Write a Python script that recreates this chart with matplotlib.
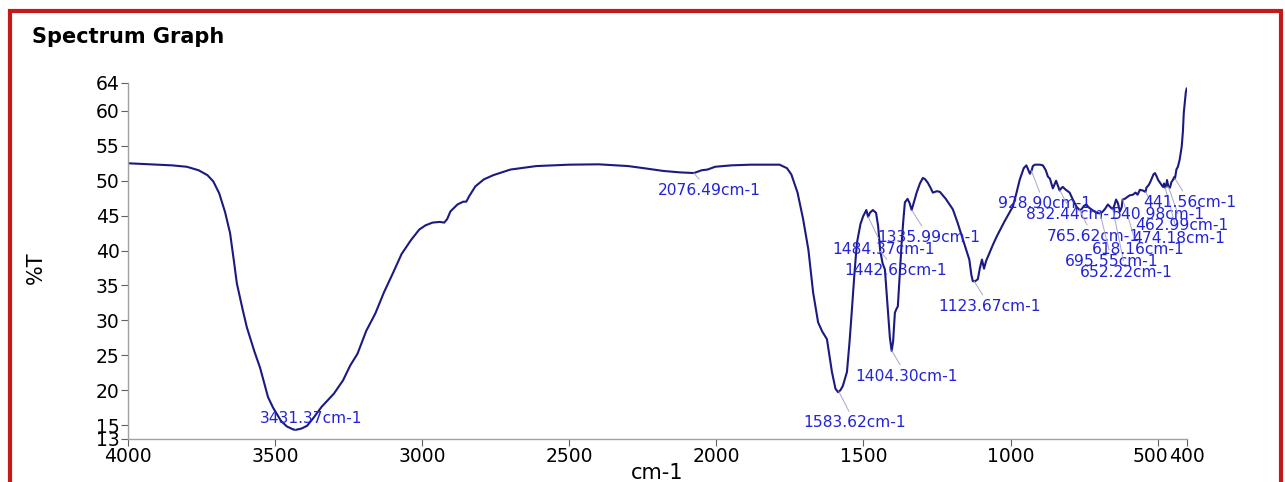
import numpy as np
import matplotlib
matplotlib.use("Agg")
import matplotlib.pyplot as plt
from matplotlib.patches import Rectangle
from matplotlib.transforms import ScaledTranslation

# Spectrum (wavenumber cm-1, %T)
wavenumber = [
    4000, 3950, 3900, 3850, 3800, 3760, 3730, 3710, 3690, 3670, 3653, 3640, 3630, 3610,
    3596, 3570, 3551, 3524, 3507, 3480, 3460, 3440, 3431, 3410, 3391, 3370, 3342, 3300,
    3269, 3245, 3220, 3190, 3159, 3130, 3099, 3070, 3038, 3010, 2989, 2965, 2940, 2925,
    2915, 2904, 2880, 2860, 2850, 2840, 2819, 2790, 2758, 2700, 2612, 2500, 2400, 2300,
    2247, 2180, 2125, 2076, 2050, 2030, 2004, 1950, 1882, 1800, 1785, 1760, 1745, 1724,
    1705, 1687, 1671, 1654, 1640, 1624, 1607, 1595, 1586, 1578, 1570, 1556, 1547, 1539,
    1530, 1522, 1510, 1501, 1490, 1484, 1478, 1468, 1457, 1450, 1443, 1435, 1427, 1417,
    1410, 1404, 1399, 1393, 1388, 1383, 1376, 1370, 1364, 1359, 1350, 1343, 1336, 1328,
    1319, 1308, 1298, 1290, 1281, 1272, 1264, 1250, 1240, 1220, 1196, 1180, 1162, 1150,
    1140, 1133, 1128, 1120, 1111, 1104, 1097, 1090, 1083, 1077, 1060, 1047, 1020, 992,
    980, 969, 955, 946, 940, 934, 928, 924, 917, 900, 890, 880, 873, 866, 856, 850, 845,
    838, 833, 826, 822, 812, 799, 788, 776, 765, 759, 750, 742, 735, 725, 715, 707, 695,
    686, 678, 669, 660, 652, 646, 641, 635, 628, 622, 619, 612, 605, 595, 584, 575, 568,
    560, 550, 541, 538, 530, 525, 519, 514, 509, 504, 498, 490, 485, 481, 478, 474, 470,
    468, 463, 458, 453, 448, 444, 441, 436, 431, 425, 418, 414, 411, 407, 404, 401,
]
transmittance = [
    52.5, 52.4, 52.3, 52.2, 52.0, 51.5, 50.8, 49.9, 48.2, 45.5, 42.5, 38.5, 35.3, 31.5,
    29.0, 25.5, 23.2, 19.0, 17.5, 15.6, 14.8, 14.4, 14.3, 14.5, 14.9, 16.0, 17.6, 19.5,
    21.4, 23.5, 25.2, 28.5, 31.0, 34.0, 36.8, 39.5, 41.5, 43.0, 43.6, 44.0, 44.1, 44.0,
    44.5, 45.6, 46.6, 47.0, 47.0, 47.8, 49.2, 50.2, 50.8, 51.6, 52.1, 52.3, 52.35, 52.1,
    51.8, 51.4, 51.2, 51.1, 51.5, 51.6, 52.0, 52.2, 52.3, 52.3, 52.3, 51.8, 50.9, 48.3,
    44.5, 40.1, 34.0, 29.7, 28.4, 27.3, 22.6, 20.2, 19.7, 20.0, 20.6, 22.6, 27.0, 31.6,
    37.0, 41.1, 43.8, 44.9, 45.8, 44.8, 45.4, 45.8, 45.4, 43.5, 40.0, 38.2, 37.3, 31.6,
    27.5, 25.6, 27.0, 31.1, 31.6, 32.0, 37.0, 41.1, 44.5, 46.9, 47.4, 46.8, 45.8, 47.0,
    48.3, 49.6, 50.4, 50.2, 49.7, 49.0, 48.3, 48.5, 48.4, 47.4, 45.9, 44.0, 41.6, 40.0,
    38.7, 36.5, 35.6, 35.6, 35.9, 37.5, 38.7, 37.4, 38.5, 39.1, 40.8, 42.0, 44.2, 46.3,
    48.2, 50.1, 51.8, 52.2, 51.6, 51.0, 51.5, 52.1, 52.3, 52.3, 52.2, 51.5, 50.6, 50.3,
    48.9, 49.5, 50.0, 49.2, 48.6, 49.0, 49.1, 48.7, 48.3, 47.3, 46.3, 45.8, 45.9, 46.4,
    46.6, 46.2, 45.9, 45.6, 45.4, 45.3, 45.6, 46.0, 46.6, 46.2, 45.9, 46.6, 47.3, 46.8,
    45.6, 46.2, 47.3, 47.4, 47.6, 47.9, 48.0, 48.3, 48.0, 48.7, 48.6, 48.4, 49.0, 49.4,
    49.8, 50.4, 50.9, 51.1, 50.7, 50.1, 49.6, 49.3, 49.1, 49.6, 49.0, 49.5, 50.1, 49.1,
    49.0, 49.8, 50.1, 50.5, 50.3, 51.6, 52.0, 53.0, 54.9, 57.0, 59.7, 61.5, 62.7, 63.2,
]

# Labelled peaks
peak_wn = [3431.37, 2076.49, 1583.62, 1484.37, 1442.63, 1404.30, 1335.99, 1123.67,
           928.90, 832.44, 765.62, 695.55, 652.22, 618.16, 540.98, 474.18, 462.99, 441.56]

# Where each peak label sits (data coords, label centre)
label_pos = [(3378, 15.9), (2025, 48.6), (1529, 15.3), (1430, 40.1), (1390, 37.1),
             (1352, 22.0), (1277, 41.9), (1070, 32.0), (886, 46.7), (788, 45.1),
             (720, 42.0), (655, 38.4), (608, 36.9), (567, 40.1), (499, 45.1),
             (428, 41.7), (417, 43.6), (390, 46.9)]

xticks = [4000, 3500, 3000, 2500, 2000, 1500, 1000, 500, 400]
yticks = [13, 15, 20, 25, 30, 35, 40, 45, 50, 55, 60, 64]

fig = plt.figure(figsize=(12.85, 4.82), dpi=100)
ax = fig.add_axes([128 / 1285, 1 - 439 / 482, (1187 - 128) / 1285, (439 - 83) / 482])

ax.plot(wavenumber, transmittance, color="#1a1a80", lw=1.5)
ax.set_xlim(4000, 400)
ax.set_ylim(13, 64)

wn_asc = np.array(wavenumber[::-1], dtype=float)
t_asc = np.array(transmittance[::-1], dtype=float)
for wn, (tx, ty) in zip(peak_wn, label_pos):
    py = np.interp(wn, wn_asc, t_asc)
    ax.annotate(f"{wn:.2f}cm-1", xy=(wn, py), xytext=(tx, ty),
                ha="center", va="center", fontsize=11.2, color="#2323d8",
                arrowprops=dict(arrowstyle="-", color="#a8a8c8", lw=0.7,
                                shrinkA=1, shrinkB=0))

for s in ["top", "right"]:
    ax.spines[s].set_visible(False)
for s in ["left", "bottom"]:
    ax.spines[s].set_color("#a0a0a0")
    ax.spines[s].set_linewidth(1.0)

ax.set_xticks(xticks)
ax.set_xticklabels([str(t) for t in xticks])
ax.set_yticks(yticks)
ax.set_yticklabels([str(t) for t in yticks])
ax.tick_params(axis="both", direction="out", length=5, width=0.8, color="#606060",
               labelsize=13.5, pad=1)

# nudge the 500 label left so it sits right against 400
off = ScaledTranslation(-7 / 100, 0, fig.dpi_scale_trans)
lab500 = ax.get_xticklabels()[7]
lab500.set_transform(lab500.get_transform() + off)

ax.set_xlabel("cm-1", fontsize=15)
ax.xaxis.set_label_coords(0.5, -0.068)
ax.set_ylabel("%T", fontsize=15)
ax.yaxis.set_label_coords(-0.078, 0.48)

fig.text(32 / 1285, 1 - 37 / 482, "Spectrum Graph", fontsize=15, fontweight="bold",
         va="center", ha="left")

# red frame around the whole panel
fig.patches.append(Rectangle((9.5 / 1285, -0.1), (1281 - 9.5) / 1285, 1.1 - 11.3 / 482,
                             transform=fig.transFigure, fill=False,
                             edgecolor="#c41a1a", lw=3.0))

fig.savefig("out.png", dpi=100)
